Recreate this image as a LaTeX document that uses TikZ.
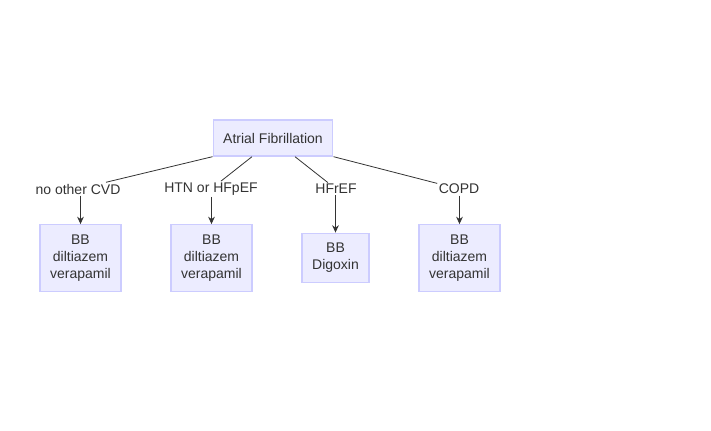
\documentclass[tikz,border=0pt]{standalone}
\usepackage{fontspec}
\setmainfont{Liberation Sans}
\usetikzlibrary{calc,arrows.meta}
\definecolor{boxfill}{HTML}{ECECFF}
\definecolor{boxline}{HTML}{CCCCFF}
\definecolor{ink}{HTML}{333333}
\begin{document}
\begin{tikzpicture}[x=0.75pt,y=-0.75pt,
    box/.style={draw=boxline, fill=boxfill, line width=1pt, text=ink, align=center,
        inner xsep=7.5pt, inner ysep=7.5pt, font=\fontsize{10.5}{12.75}\selectfont},
    elabel/.style={fill=white, text=ink, inner sep=1pt, font=\fontsize{10.5}{12.75}\selectfont},
    edge/.style={draw=ink, line width=0.6pt},
    arr/.style={edge, -{Stealth[length=5.5pt,width=5pt]}}]
        % Bordi della figura
        \useasboundingbox (0,0) rectangle (711,430);

        % Nodo radice
        \node[box, minimum height=27pt] (af) at (273,138) {Atrial Fibrillation};

        % Etichette dei rami
        \node[elabel] (l1) at (78,189) {no other CVD};
        \node[elabel] (l2) at (211,189) {HTN or HFpEF};
        \node[elabel] (l3) at (336,189) {HFrEF};
        \node[elabel] (l4) at (459,189) {COPD};

        % Terapie
        \node[box] (t1) at (80.5,258) {BB\\diltiazem\\verapamil};
        \node[box] (t2) at (211.5,258) {BB\\diltiazem\\verapamil};
        \node[box] (t3) at (335.5,258) {BB\\Digoxin};
        \node[box] (t4) at (459.5,258) {BB\\diltiazem\\verapamil};

        % Rami dalla radice alle etichette
        \draw[edge] (af.south west) -- (l1);
        \draw[edge] ($(af.south)+(-21,0)$) -- (l2);
        \draw[edge] ($(af.south)+(22,0)$) -- (l3);
        \draw[edge] (af.south east) -- (l4);

        % Frecce verso le terapie
        \draw[arr] (l1.south -| t1.north) -- (t1.north);
        \draw[arr] (l2.south -| t2.north) -- (t2.north);
        \draw[arr] (l3.south -| t3.north) -- (t3.north);
        \draw[arr] (l4.south -| t4.north) -- (t4.north);
    \end{tikzpicture}
\end{document}
